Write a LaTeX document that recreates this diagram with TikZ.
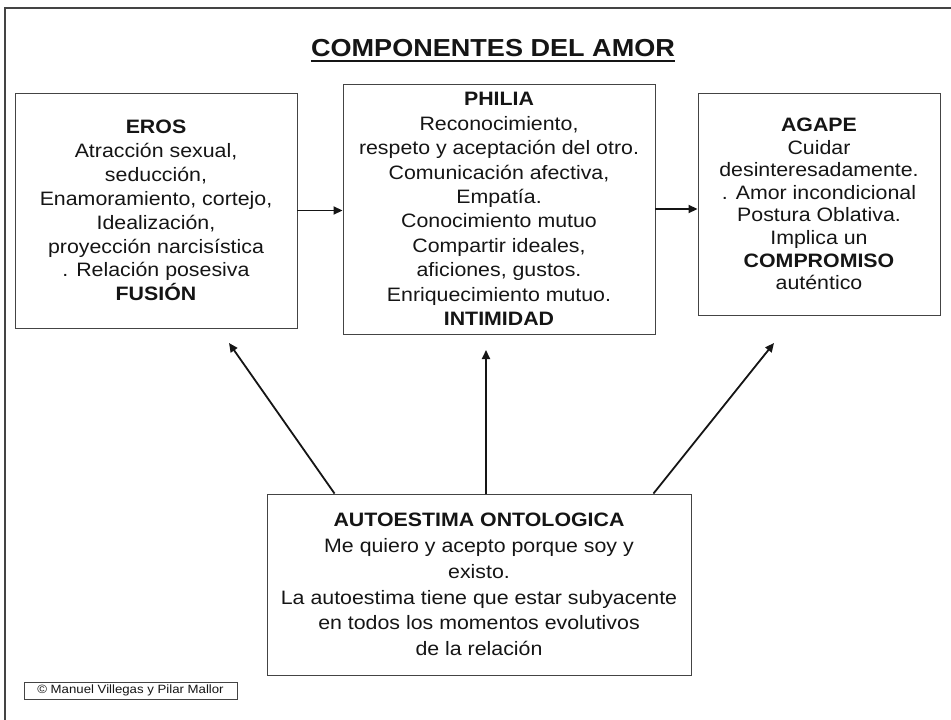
\documentclass[tikz,border=0pt]{standalone}
\usepackage{fontspec}
\setmainfont{Liberation Sans}[FakeStretch=1.1]
\usetikzlibrary{arrows.meta}
\definecolor{ink}{HTML}{151515}
\definecolor{edge}{HTML}{444444}
\begin{document}
\begin{tikzpicture}[x=1pt,y=1pt,
  box/.style={draw=edge, line width=0.9pt, inner sep=0pt, align=center, text=ink,
    font=\fontsize{19.4}{23.9}\selectfont},
  arr/.style={draw=ink, line width=1.8pt, -{Triangle[length=9pt,width=8pt]}},
  frame/.style={draw=edge, line width=2.8pt}]
\useasboundingbox (0,0) rectangle (951,-720);
\draw[frame] (5,-722) -- (5,-8) -- (953,-8);
% title
\node[inner sep=0pt, anchor=base, text=ink, font=\fontsize{24.6}{28}\selectfont\bfseries] (title) at (493,-56) {COMPONENTES DEL AMOR};
\draw[ink, line width=2.2pt] ([yshift=-5pt]title.base west) -- ([yshift=-5pt]title.base east);
% boxes
\node[box, minimum width=282pt, minimum height=235pt] (eros) at (156,-210.5)
  {\textbf{EROS}\\Atracción sexual,\\seducción,\\Enamoramiento, cortejo,\\Idealización,\\proyección narcisística\\. Relación posesiva\\\textbf{FUSIÓN}};
\node[box, minimum width=312pt, minimum height=250pt, font=\fontsize{19.4}{24.4}\selectfont] (philia) at (499,-209)
  {\textbf{PHILIA}\\Reconocimiento,\\respeto y aceptación del otro.\\Comunicación afectiva,\\Empatía.\\Conocimiento mutuo\\Compartir ideales,\\aficiones, gustos.\\Enriquecimiento mutuo.\\\textbf{INTIMIDAD}};
\node[box, minimum width=242pt, minimum height=222pt, font=\fontsize{19.4}{22.6}\selectfont] (agape) at (819,-204)
  {\textbf{AGAPE}\\Cuidar\\desinteresadamente.\\. Amor incondicional\\Postura Oblativa.\\Implica un\\\textbf{COMPROMISO}\\auténtico};
\node[box, minimum width=424pt, minimum height=181pt, font=\fontsize{19.4}{25.7}\selectfont] (auto) at (479,-584.5)
  {\textbf{AUTOESTIMA ONTOLOGICA}\\Me quiero y acepto porque soy y\\existo.\\La autoestima tiene que estar subyacente\\en todos los momentos evolutivos\\de la relación};
\node[draw=edge, line width=0.8pt, inner sep=0pt, minimum width=213pt, minimum height=17pt, text=ink,
  font=\fontsize{12}{13}\selectfont] (copy) at (130.5,-690.5) {© Manuel Villegas y Pilar Mallor};
% connectors
\draw[arr] (eros.east) -- (philia.west |- eros.east);
\draw[arr] (philia.east) -- (agape.west |- philia.east);
\coordinate (t1) at (229,-343);
\coordinate (t2) at (486,-350);
\coordinate (t3) at (774,-343);
\draw[arr] ([xshift=68pt]auto.north west) -- (t1);
\draw[arr] ([xshift=7pt]auto.north) -- (t2);
\draw[arr] ([xshift=-38pt]auto.north east) -- (t3);
\end{tikzpicture}
\end{document}
